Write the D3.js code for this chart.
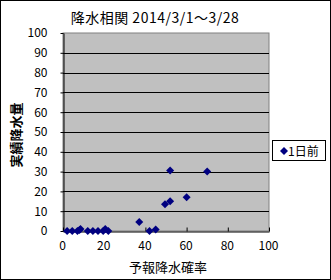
<!DOCTYPE html>
<html>
<head>
<meta charset="utf-8">
<script src="https://cdn.jsdelivr.net/npm/d3@7"></script>
<style>
body { margin: 0; background: #fff; }
text { font-family: "Noto Sans CJK JP", "DejaVu Sans", sans-serif; fill: #000; }
</style>
</head>
<body>
<div id="contents"></div>
<script>
var title = "降水相関 2014/3/1～3/28";
var xTitle = "予報降水確率";
var yTitle = "実績降水量";
var seriesName = "1日前";
// forecast probability (%) vs observed precipitation (mm)
var probs  = [2, 4.5, 7, 8, 8.5, 12, 14.5, 17, 19.5, 20.5, 22, 37, 42, 45, 49.5, 52, 52, 60, 70];
var rains  = [0, 0, 0, 0.5, 1, 0, 0, 0, 0, 1, 0, 4.5, 0, 0.8, 13.5, 15, 30.5, 17, 30];
var xTicks = [0, 20, 40, 60, 80, 100];
var yTicks = [0, 10, 20, 30, 40, 50, 60, 70, 80, 90, 100];

function drawChart(){
	var width = 331, height = 280;
	var plot = {left: 63, right: 269, top: 33, bottom: 231};

	var svg = d3.select("#contents")
				.append("svg")
				.attr("width", width)
				.attr("height", height);

	svg.append("rect")
		.attr("x", 0.5).attr("y", 0.5)
		.attr("width", width - 1).attr("height", height - 1)
		.attr("fill", "#fff").attr("stroke", "#000");

	var x = d3.scaleLinear().domain([0, 100]).range([plot.left, plot.right]);
	var y = d3.scaleLinear().domain([0, 100]).range([plot.bottom, plot.top]);

	svg.append("rect")
		.attr("x", plot.left).attr("y", plot.top)
		.attr("width", plot.right - plot.left).attr("height", plot.bottom - plot.top)
		.attr("fill", "#c0c0c0")
		.attr("stroke", "#808080");

	// gridlines
	svg.selectAll(".grid")
		.data(yTicks.filter(function(d){ return d > 0 && d < 100; }))
		.enter().append("line")
		.attr("x1", plot.left).attr("x2", plot.right)
		.attr("y1", function(d){ return Math.round(y(d)) + 0.5; })
		.attr("y2", function(d){ return Math.round(y(d)) + 0.5; })
		.attr("stroke", "#000");

	var xAxis = svg.append("g")
		.attr("transform", "translate(0," + (plot.bottom + 0.5) + ")")
		.call(d3.axisBottom(x).tickValues(xTicks).tickSizeInner(-4).tickSizeOuter(0).tickPadding(10));
	xAxis.select(".domain").attr("stroke", "#000");
	xAxis.selectAll("text").attr("font-size", 12).attr("dx", -1)
		.style("font-family", '"Noto Sans CJK JP", sans-serif');

	var yAxis = svg.append("g")
		.attr("transform", "translate(" + (plot.left + 0.5) + ",0)")
		.call(d3.axisLeft(y).tickValues(yTicks).tickSizeInner(3).tickSizeOuter(0).tickPadding(13));
	yAxis.select(".domain").attr("stroke", "#000");
	yAxis.selectAll("text").attr("font-size", 12)
		.style("font-family", '"Noto Sans CJK JP", sans-serif');

	// points
	var pts = probs.map(function(p, i){ return {x: p, y: rains[i]}; });
	svg.selectAll(".pt")
		.data(pts)
		.enter().append("path")
		.attr("d", "M0,-4L4,0L0,4L-4,0Z")
		.attr("transform", function(d){ return "translate(" + x(d.x) + "," + y(d.y) + ")"; })
		.attr("fill", "#000080");

	svg.append("text")
		.attr("x", 155).attr("y", 23)
		.attr("text-anchor", "middle")
		.attr("font-size", 14)
		.attr("letter-spacing", 0.5)
		.text(title);

	svg.append("text")
		.attr("x", 168).attr("y", 272)
		.attr("text-anchor", "middle")
		.attr("font-size", 13)
		.text(xTitle);

	svg.append("text")
		.attr("transform", "translate(21,135) rotate(-90)")
		.attr("text-anchor", "middle")
		.attr("font-size", 13)
		.attr("font-weight", "bold")
		.text(yTitle);

	// legend
	var lg = svg.append("g");
	lg.append("rect")
		.attr("x", 272.5).attr("y", 140.5)
		.attr("width", 53).attr("height", 20)
		.attr("fill", "#fff").attr("stroke", "#000");
	lg.append("path")
		.attr("d", "M0,-4L4,0L0,4L-4,0Z")
		.attr("transform", "translate(284,151)")
		.attr("fill", "#000080");
	lg.append("text")
		.attr("x", 288).attr("y", 155.5)
		.attr("font-size", 12)
		.text(seriesName);
}
drawChart();
</script>
</body>
</html>
